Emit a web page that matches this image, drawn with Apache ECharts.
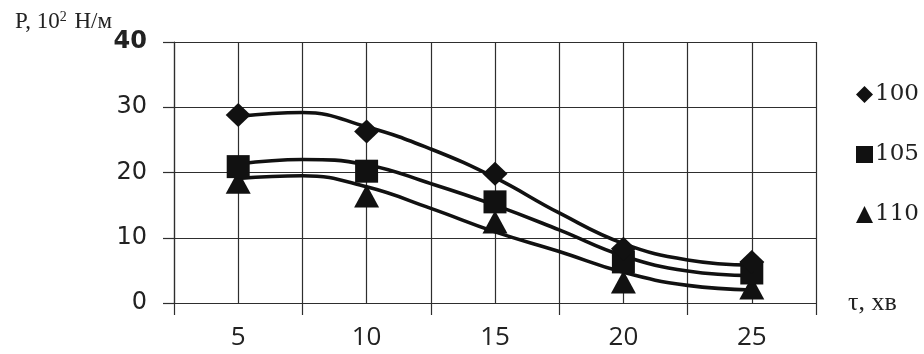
<!DOCTYPE html>
<html>
<head>
<meta charset="utf-8">
<script src="https://cdn.jsdelivr.net/npm/echarts@6/dist/echarts.min.js"></script>
<style>
html,body{margin:0;padding:0;background:#fff;}
#chart{width:924px;height:354px;}
</style>
</head>
<body>
<div id="chart"></div>
<script>
// categories (time, min)
var categories = [5, 10, 15, 20, 25];
var categoryLabels = ['5', '10', '15', '20', '25'];
// measured points
var p100 = [28.8, 26.3, 19.8, 8.3, 6.3];
var p105 = [20.9, 20.2, 15.5, 6.3, 4.6];
var p110 = [18.5, 16.4, 12.4, 3.2, 2.3];
// trend curves
var trendX = [5, 7.5, 10, 12.5, 15, 17.5, 20, 22.5, 25];
var trend100 = [28.6, 29.2, 27.0, 23.6, 19.2, 13.8, 9.1, 6.6, 5.8];
var trend105 = [21.3, 22.0, 21.2, 18.3, 15.0, 11.2, 7.2, 4.9, 4.2];
var trend110 = [19.1, 19.5, 17.8, 14.5, 10.9, 7.9, 4.7, 2.7, 2.0];
var seriesNames = ['100', '105', '110'];
var yTicks = [0, 10, 20, 30, 40];

function pairs(xs, ys) { return xs.map(function (x, i) { return [x, ys[i]]; }); }

var ink = '#111111';
var gridCol = '#2e2e2e';

var chart = echarts.init(document.getElementById('chart'), null, {renderer: 'canvas'});
var lineSeries = [trend100, trend105, trend110].map(function (t) {
  return {
    type: 'line', xAxisIndex: 1, data: pairs(trendX, t), smooth: 0.45,
    showSymbol: false, symbol: 'none', silent: true,
    lineStyle: {color: ink, width: 3.6}, z: 3
  };
});
var symbols = ['diamond', 'rect', 'triangle'];
var sizes = [[25, 24], [23, 23], [25, 23]];
var scatterSeries = [p100, p105, p110].map(function (p, i) {
  return {
    name: seriesNames[i], type: 'scatter', xAxisIndex: 1,
    data: pairs(categories, p), symbol: symbols[i], symbolSize: sizes[i],
    itemStyle: {color: ink, opacity: 1}, z: 5 + (2 - i)
  };
});

chart.setOption({
  animation: false,
  backgroundColor: '#fff',
  title: {
    left: 10, top: 5,
    text: '{a|P, 10}{s|2}{a| Н/м}',
    textStyle: {
      fontWeight: 'normal',
      rich: {
        a: {fontFamily: 'Liberation Serif', fontSize: 23, fontWeight: 'normal', color: '#222'},
        s: {fontFamily: 'Liberation Serif', fontSize: 14, fontWeight: 'normal', color: '#222', verticalAlign: 'top', padding: [0, 2, 10, 0]}
      }
    }
  },
  legend: {
    orient: 'vertical', left: 851, top: 78,
    itemWidth: 17, itemHeight: 17, itemGap: 37,
    data: [
      {name: '100', icon: 'diamond', itemStyle: {color: ink, opacity: 1}},
      {name: '105', icon: 'rect', itemStyle: {color: ink, opacity: 1}},
      {name: '110', icon: 'triangle', itemStyle: {color: ink, opacity: 1}}
    ],
    textStyle: {fontFamily: 'DejaVu Serif', fontSize: 23, color: '#222', padding: [0, 0, 0, -3], lineHeight: 22},
    selectedMode: false
  },
  grid: {left: 174, right: 108, top: 42, bottom: 51, containLabel: false},
  xAxis: [
    {
      type: 'category', data: categoryLabels, boundaryGap: true, position: 'bottom',
      axisLine: {show: true, lineStyle: {color: gridCol, width: 1.2}},
      axisTick: {show: true, length: 12, lineStyle: {color: gridCol, width: 1.2}},
      axisLabel: {margin: 22, fontFamily: 'Open Sans', fontSize: 26, color: '#222'},
      splitLine: {show: false},
      name: 'τ, хв', nameLocation: 'end', nameGap: 32,
      nameTextStyle: {fontFamily: 'Liberation Serif', fontSize: 26, color: '#222', verticalAlign: 'middle', padding: [0, 0, 6, 0]}
    },
    {
      type: 'value', min: 2.5, max: 27.5, interval: 2.5, position: 'bottom',
      axisLine: {show: false}, axisTick: {show: false}, axisLabel: {show: false},
      splitLine: {show: true, lineStyle: {color: gridCol, width: 1.2}}
    }
  ],
  yAxis: {
    type: 'value', min: yTicks[0], max: yTicks[yTicks.length - 1], interval: 10,
    axisLine: {show: true, lineStyle: {color: gridCol, width: 1.2}},
    axisTick: {show: true, length: 11, lineStyle: {color: gridCol, width: 1.2}},
    splitLine: {show: true, lineStyle: {color: gridCol, width: 1.2}},
    axisLabel: {
      margin: 27, fontFamily: 'DejaVu Sans', fontSize: 24, color: '#222',
      formatter: function (v) { return v === 40 ? '{b|' + v + '}' : String(v); },
      rich: {b: {fontFamily: 'DejaVu Sans', fontSize: 24, fontWeight: 'bold', color: '#222'}}
    }
  },
  series: lineSeries.concat(scatterSeries)
});
</script>
</body>
</html>
